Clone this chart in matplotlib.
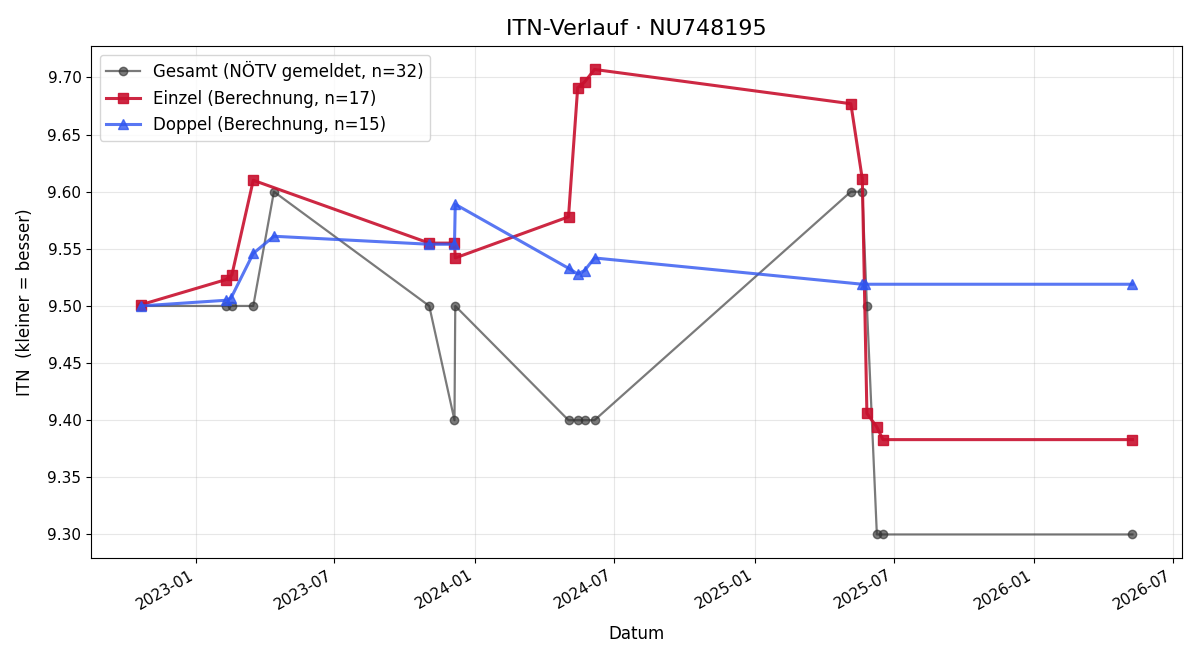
import matplotlib.pyplot as plt
import matplotlib.dates as mdates
import numpy as np
import pandas as pd

# Gesamt (gemeldet)
gesamt_datum = pd.to_datetime([
    "2022-10-21", "2023-02-09", "2023-02-17", "2023-03-17", "2023-04-13",
    "2023-11-02", "2023-12-05", "2023-12-06", "2024-05-02", "2024-05-14",
    "2024-05-23", "2024-06-05", "2025-05-06", "2025-05-21", "2025-05-27",
    "2025-06-09", "2025-06-17", "2026-05-09"])
gesamt_itn = [9.50, 9.50, 9.50, 9.50, 9.60,
              9.50, 9.40, 9.50, 9.40, 9.40,
              9.40, 9.40, 9.60, 9.60, 9.50,
              9.30, 9.30, 9.30]

# Einzel (berechnet)
einzel_datum = pd.to_datetime([
    "2022-10-21", "2023-02-09", "2023-02-17", "2023-03-17", "2023-11-02",
    "2023-12-05", "2023-12-06", "2024-05-02", "2024-05-14", "2024-05-23",
    "2024-06-05", "2025-05-06", "2025-05-21", "2025-05-27", "2025-06-09",
    "2025-06-17", "2026-05-09"])
einzel_itn = [9.501, 9.523, 9.527, 9.610, 9.555,
              9.555, 9.542, 9.578, 9.691, 9.696,
              9.707, 9.677, 9.611, 9.406, 9.394,
              9.383, 9.383]

# Doppel (berechnet)
doppel_datum = pd.to_datetime([
    "2022-10-21", "2023-02-10", "2023-02-16", "2023-03-17", "2023-04-13",
    "2023-11-02", "2023-12-05", "2023-12-06", "2024-05-02", "2024-05-14",
    "2024-05-23", "2024-06-05", "2025-05-21", "2025-05-24", "2026-05-09"])
doppel_itn = [9.500, 9.505, 9.507, 9.546, 9.561,
              9.554, 9.554, 9.589, 9.533, 9.528,
              9.531, 9.542, 9.519, 9.519, 9.519]

fig, ax = plt.subplots(figsize=(12, 6.6), dpi=100)

ax.plot(gesamt_datum, gesamt_itn, marker='o', ms=6, lw=1.6, color='#333333',
        alpha=0.65, label='Gesamt (NÖTV gemeldet, n=32)')
ax.plot(einzel_datum, einzel_itn, marker='s', ms=7, lw=2.2, color='#c8102e',
        alpha=0.9, label='Einzel (Berechnung, n=17)')
ax.plot(doppel_datum, doppel_itn, marker='^', ms=7, lw=2.2, color='#2f55f0',
        alpha=0.8, label='Doppel (Berechnung, n=15)')

ax.set_title('ITN-Verlauf · NU748195', fontsize=16, pad=8)
ax.set_xlabel('Datum', fontsize=12, labelpad=9)
ax.set_ylabel('ITN  (kleiner = besser)', fontsize=12, labelpad=10)
ax.yaxis.set_major_formatter(plt.FormatStrFormatter('%.2f'))
ax.xaxis.set_major_locator(mdates.MonthLocator(bymonth=[1, 7]))
ax.xaxis.set_major_formatter(mdates.DateFormatter('%Y-%m'))
ax.tick_params(labelsize=11)
ax.grid(True, alpha=0.3)
ax.legend(loc='upper left', fontsize=12)
fig.autofmt_xdate()

plt.subplots_adjust(left=0.076, right=0.985, top=0.93, bottom=0.155)
plt.savefig('out.png')
